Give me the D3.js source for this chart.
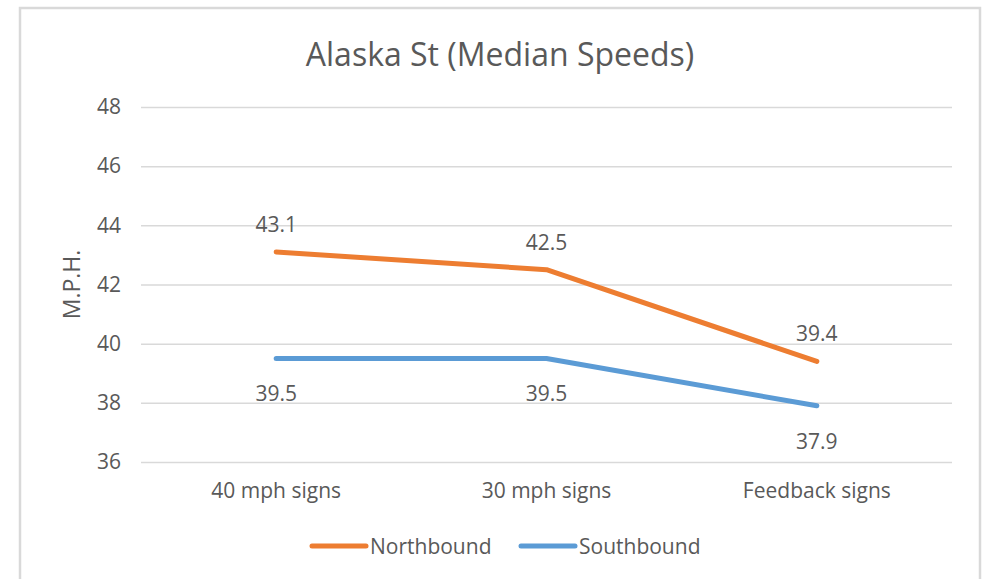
<!DOCTYPE html>
<html>
<head>
<meta charset="utf-8">
<script src="https://cdn.jsdelivr.net/npm/d3@7"></script>
<style>
    body { margin: 0; background: #fff; }
    text { font-family: "Open Sans", "Noto Sans", sans-serif; fill: #595959; }
</style>
</head>
<body>
<div class="line-graph"></div>
<script>
// chart data
var categories = ["40 mph signs", "30 mph signs", "Feedback signs"];
var northbound = [43.1, 42.5, 39.4];
var southbound = [39.5, 39.5, 37.9];
var yTicks = [36, 38, 40, 42, 44, 46, 48];
var seriesNames = ["Northbound", "Southbound"];
var seriesColors = ["#ED7D31", "#5B9BD5"];

var width = 987, height = 579;
var margin = {top: 107, right: 35, bottom: 117, left: 141},
    plotW = width - margin.left - margin.right,
    plotH = height - margin.top - margin.bottom;

var svg = d3.select("div.line-graph").append("svg")
    .attr("width", width)
    .attr("height", height);

// chart frame
svg.append("rect")
    .attr("x", 20).attr("y", 8)
    .attr("width", 960).attr("height", 600)
    .attr("fill", "#fff")
    .attr("stroke", "#d9d9d9")
    .attr("stroke-width", 2.5);

var g = svg.append("g")
    .attr("transform", "translate(" + margin.left + "," + margin.top + ")");

// set the ranges
var x = d3.scaleBand()
    .domain(categories)
    .range([0, plotW]);

var y = d3.scaleLinear()
    .domain([36, 48])
    .range([plotH, 0]);

// gridlines + y tick labels
g.append("g")
    .call(d3.axisLeft(y).tickValues(yTicks).tickSize(-plotW).tickPadding(20))
    .call(function (a) {
        a.select(".domain").remove();
        a.selectAll(".tick line").attr("stroke", "#d9d9d9").attr("stroke-width", 1.5);
        a.selectAll(".tick text").style("font-size", "21px").attr("fill", "#595959");
    });

// x axis labels
g.append("g")
    .attr("transform", "translate(0," + plotH + ")")
    .call(d3.axisBottom(x).tickSize(0).tickPadding(21))
    .call(function (a) {
        a.select(".domain").remove();
        a.selectAll(".tick text").style("font-size", "21px").attr("fill", "#595959");
    });

// title
svg.append("text")
    .attr("x", 500).attr("y", 66)
    .attr("text-anchor", "middle")
    .style("font-size", "32px")
    .text("Alaska St (Median Speeds)");

// y axis title
svg.append("text")
    .attr("transform", "translate(80," + (margin.top + y(42)) + ") rotate(-90)")
    .attr("text-anchor", "middle")
    .style("font-size", "23px")
    .text("M.P.H.");

var line = d3.line()
    .x(function (d, i) { return x(categories[i]) + x.bandwidth() / 2; })
    .y(function (d) { return y(d); });

var series = [northbound, southbound];

series.forEach(function (vals, s) {
    g.append("path")
        .datum(vals)
        .attr("fill", "none")
        .attr("stroke", seriesColors[s])
        .attr("stroke-width", 5)
        .attr("stroke-linecap", "round")
        .attr("stroke-linejoin", "round")
        .attr("d", line);

    // data labels: north above, south below
    g.selectAll(".lbl" + s)
        .data(vals)
        .enter().append("text")
        .attr("x", function (d, i) { return x(categories[i]) + x.bandwidth() / 2; })
        .attr("y", function (d) { return s === 0 ? y(d) - 20 : y(d) + 43; })
        .attr("text-anchor", "middle")
        .style("font-size", "21px")
        .text(function (d) { return d.toFixed(1); });
});

// legend
var legend = svg.append("g").attr("transform", "translate(310,546)");
var legendX = [0, 209];
seriesNames.forEach(function (name, s) {
    var lg = legend.append("g").attr("transform", "translate(" + legendX[s] + ",0)");
    lg.append("line")
        .attr("x1", 2).attr("x2", 56)
        .attr("stroke", seriesColors[s])
        .attr("stroke-width", 5)
        .attr("stroke-linecap", "round");
    lg.append("text")
        .attr("x", 60).attr("y", 7.5)
        .style("font-size", "21px")
        .text(name);
});
</script>
</body>
</html>
